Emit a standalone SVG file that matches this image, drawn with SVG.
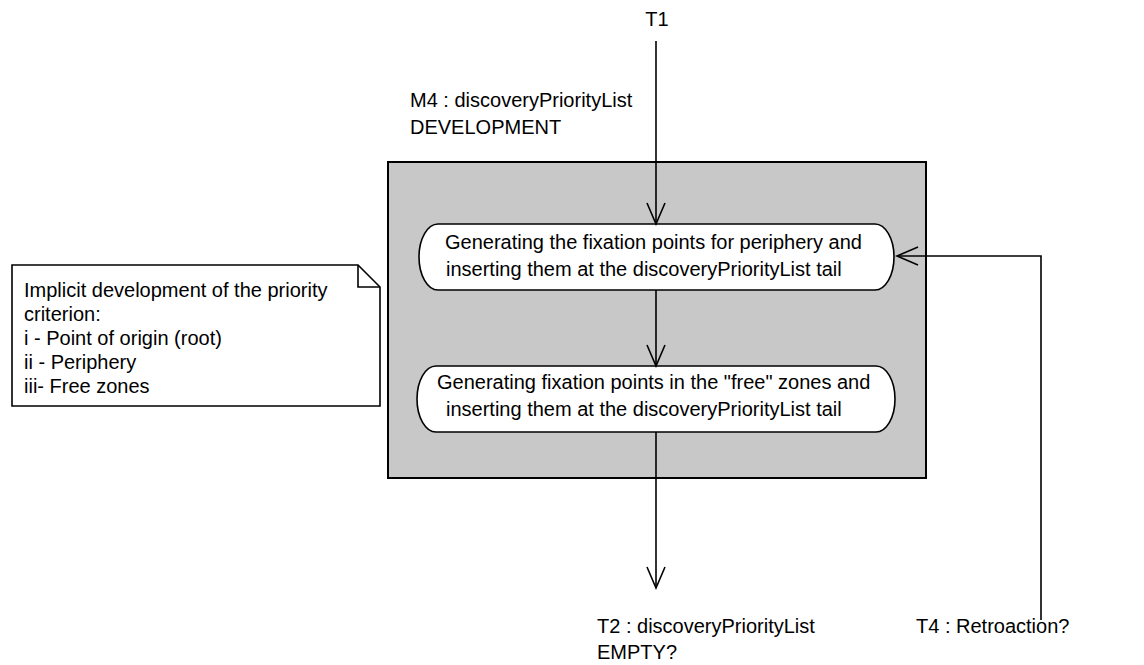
<svg xmlns="http://www.w3.org/2000/svg" width="1144" height="665" viewBox="0 0 1144 665">
<defs>
<style>
text{font-family:"Liberation Sans",Arial,sans-serif;font-size:20px;fill:#000}
.ln{fill:none;stroke:#000;stroke-width:1.6}
.node{fill:#fff;stroke:#000;stroke-width:1.6}
</style>
<marker id="arr" viewBox="0 0 24 20" refX="22" refY="10" markerWidth="24" markerHeight="20" markerUnits="userSpaceOnUse" orient="auto">
<path d="M1,1 L22,10 L1,19" fill="none" stroke="#000" stroke-width="1.6"/>
</marker>
</defs>
<rect width="1144" height="665" fill="#fff"/>
<g id="container">
<rect x="388" y="162" width="538" height="316" fill="#c8c8c8" stroke="#000" stroke-width="2"/>
<text x="410" y="107">M4 : discoveryPriorityList</text>
<text x="410" y="134">DEVELOPMENT</text>
</g>
<g id="node1">
<rect class="node" x="419" y="224" width="475" height="66" rx="19" ry="33"/>
<text x="445" y="249">Generating the fixation points for periphery and</text>
<text x="446" y="276">inserting them at the discoveryPriorityList tail</text>
</g>
<g id="node2">
<rect class="node" x="417" y="366" width="478" height="66" rx="19" ry="33"/>
<text x="437" y="389">Generating fixation points in the "free" zones and</text>
<text x="446" y="416">inserting them at the discoveryPriorityList tail</text>
</g>
<g id="note">
<path d="M12,265 L358,265 L380,287 L380,406 L12,406 Z" fill="#fff" stroke="#000" stroke-width="1.6"/>
<path d="M358,265 L358,287 L380,287" fill="none" stroke="#000" stroke-width="1.6"/>
<text x="24" y="297">Implicit development of the priority</text>
<text x="24" y="321">criterion:</text>
<text x="24" y="345">i  - Point of origin (root)</text>
<text x="24" y="369">ii - Periphery</text>
<text x="24" y="393">iii- Free zones</text>
</g>
<g id="t1"><text x="657" y="26" text-anchor="middle">T1</text></g>
<g id="t2">
<text x="597" y="633">T2 : discoveryPriorityList</text>
<text x="597" y="659">EMPTY?</text>
</g>
<g id="t4"><text x="916" y="633">T4 : Retroaction?</text></g>
<g id="connectors">
<path class="ln" d="M656,41 L656,224" marker-end="url(#arr)"/>
<path class="ln" d="M656,290 L656,366" marker-end="url(#arr)"/>
<path class="ln" d="M656,432 L656,588" marker-end="url(#arr)"/>
<path class="ln" d="M1041,620 L1041,256 L897,256" marker-end="url(#arr)"/>
</g>
</svg>
